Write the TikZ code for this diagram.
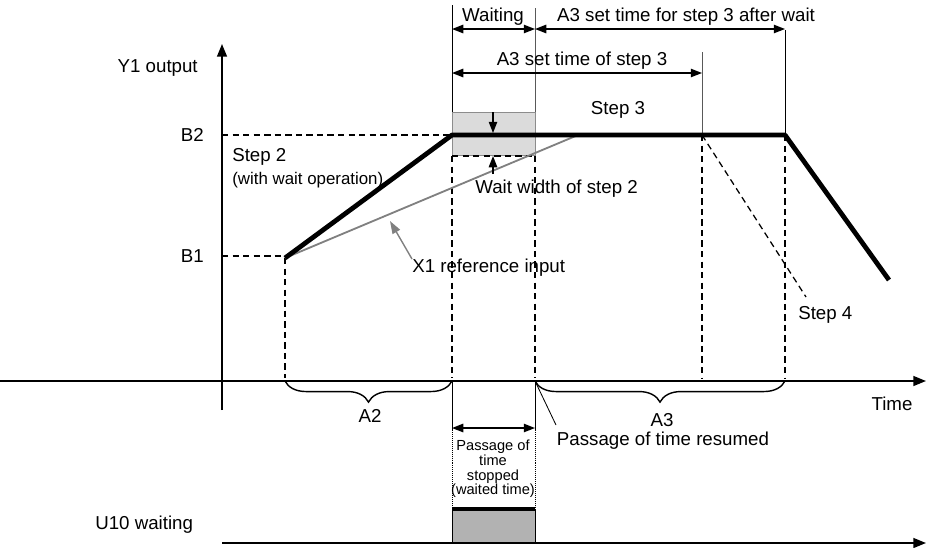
\documentclass[tikz,border=0pt]{standalone}
\usepackage{fontspec}
\setmainfont{Liberation Sans}
\usetikzlibrary{arrows.meta,decorations.pathreplacing,calc}

\begin{document}
\begin{tikzpicture}[x=0.025cm, y=-0.025cm,
    lbl/.style={inner sep=0pt, font=\fontsize{13.3}{15}\selectfont},
    small/.style={inner sep=0pt, align=center, font=\fontsize{10.4}{10.4}\selectfont},
    axis/.style={line width=1.3pt, -{Triangle[length=9pt,width=7pt]}},
    dim/.style={line width=1pt, {Triangle[length=8pt,width=6pt]}-{Triangle[length=8pt,width=6pt]}},
    ptr/.style={line width=0.9pt, -{Triangle[length=8pt,width=6pt]}},
    guide/.style={line width=0.9pt, dash pattern=on 4.5pt off 3pt},
    fine/.style={line width=0.6pt},
    ycurve/.style={line width=3.4pt},
    brc/.style={line width=1pt, decorate, decoration={brace, amplitude=15pt}}
]
\useasboundingbox (0,0) rectangle (927,547);

% key points of the output curve
\coordinate (st2) at (285,258);
\coordinate (st3) at (452,135);
\coordinate (wend) at (535,135);
\coordinate (a3end) at (702,135);
\coordinate (st4) at (785,135);
\coordinate (fall) at (889,280);
\coordinate (st4d) at (806,297);
\coordinate (xref) at (578,135);

% axes
\coordinate (torig) at (0,381);
\coordinate (tend) at (926,381);
\coordinate (yorig) at (222,410);
\coordinate (ytop) at (222,44);
\draw[axis] (torig) -- (tend);
\draw[axis] (yorig) -- (ytop);

% wait width band
\fill[black!14] (452,112) rectangle (535,155);
\draw[fine, black!45] (452,112) rectangle (535,155);

% level guides
\draw[guide] (222,135) -- (st3);
\draw[guide] (222,256) -- (285,256);
\draw[guide] (st2) -- (285,378);
\draw[guide] (452,156) -- (535,156);
\draw[guide] (452,156) -- (452,378);
\draw[guide] (535,156) -- (535,378);
\draw[guide] (a3end) -- (702,378);
\draw[guide] (st4) -- (785,378);
\draw[guide] (a3end) -- (st4d);

% thin vertical markers
\draw[fine] (452,5) -- (452,112);
\draw[fine, black!65] (535,8) -- (535,112);
\draw[fine, black!65] (702,52) -- (a3end);
\draw[fine] (785,30) -- (st4);

% reference input and output
\draw[line width=1.3pt, black!50] (st2) -- (xref);
\draw[ycurve, line join=round] (st2) -- (st3) -- (st4) -- (fall);

% top dimensions
\coordinate (dw1) at (452,29);
\coordinate (dw2) at (535,29);
\coordinate (dw3) at (785,29);
\coordinate (da1) at (452,73);
\coordinate (da2) at (702,73);
\draw[dim] (dw1) -- (dw2);
\draw[dim] (dw2) -- (dw3);
\draw[dim] (da1) -- (da2);
\node[lbl] (waiting) at (493,17) {Waiting};
\node[lbl] (afterwait) at (686,17) {A3 set time for step 3 after wait};
\node[lbl] (a3set) at (582,61) {A3 set time of step 3};

% wait width arrows
\coordinate (wwt) at (493,112);
\coordinate (wwb) at (493,174);
\draw[ptr] (wwt) -- (493,133);
\draw[ptr] (wwb) -- (493,156);
\node[lbl, anchor=west] (wwidth) at (475,189) {Wait width of step 2};

% labels on the plot
\node[lbl, anchor=east] (yout) at (198,68) {Y1 output};
\node[lbl, anchor=east] (b2) at (204,135) {B2};
\node[lbl, anchor=east] (b1) at (204,256) {B1};
\node[lbl, anchor=west] (step2) at (232,157) {Step 2};
\node[lbl, anchor=west, font=\fontsize{12}{14}\selectfont] (withwait) at (232,180) {(with wait operation)};
\node[lbl] (step3) at (618,110) {Step 3};
\node[lbl, anchor=west] (step4) at (798,315) {Step 4};
\node[lbl, anchor=west] (x1) at (412,268) {X1 reference input};
\coordinate (x1tip) at (390,221);
\draw[line width=1pt, black!50, -{Triangle[length=9pt,width=6pt]}] (x1.north west) -- (x1tip);

% braces under the time axis
\draw[brc] (452,381) -- (285,381);
\draw[brc] (785,381) -- (535,381);
\node[lbl] (a2) at (370,416) {A2};
\node[lbl] (a3) at (662,420) {A3};
\node[lbl] (time) at (892,404) {Time};

% passage of time
\coordinate (rs) at (535,381);
\coordinate (rsend) at (556,425);
\draw[fine] (rs) -- (rsend);
\node[lbl] (resumed) at (663,441) {Passage of time resumed};
\draw[fine] (452,381) -- (452,430);
\draw[fine] (535,381) -- (535,430);
\draw[line width=0.4pt, densely dotted] (452,430) -- (452,508);
\draw[line width=0.4pt, densely dotted] (535,430) -- (535,508);
\coordinate (ps1) at (452,428);
\coordinate (ps2) at (535,428);
\draw[dim] (ps1) -- (ps2);
\node[small] (stopped) at (493,469) {Passage of\\time\\stopped\\(waited time)};

% U10 waiting signal
\coordinate (uorig) at (222,543);
\coordinate (uend) at (926,543);
\node[lbl, anchor=west] (u10) at (95,525) {U10 waiting};
\draw[fine, fill=black!30] (452,543) rectangle (535,509);
\draw[line width=2.4pt] (452,509) -- (535,509);
\draw[axis] (uorig) -- (uend);
\end{tikzpicture}
\end{document}
